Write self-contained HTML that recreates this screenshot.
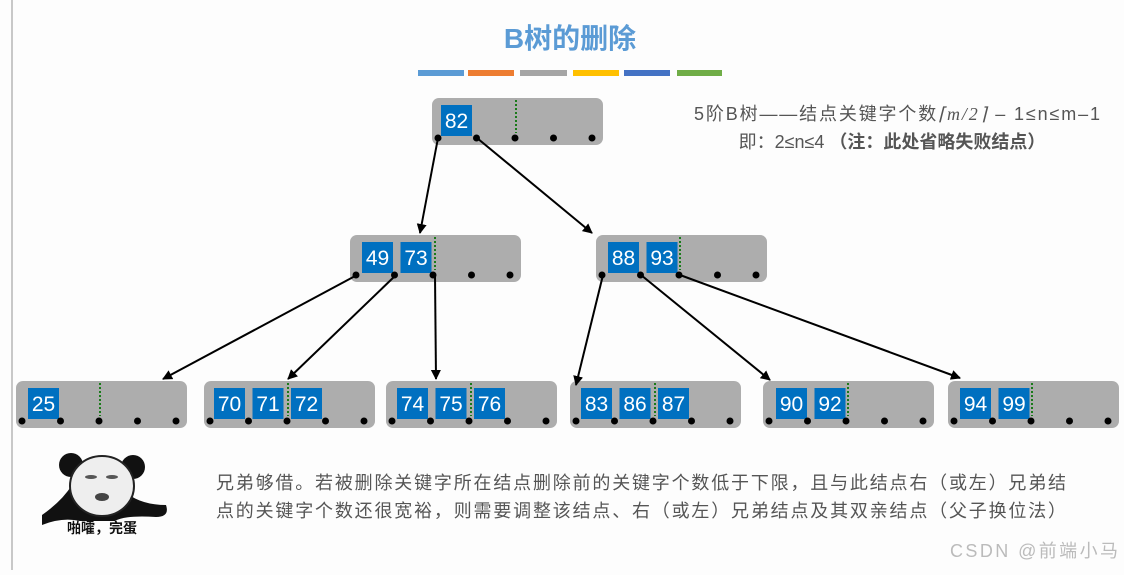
<!DOCTYPE html>
<html><head><meta charset="utf-8"><style>
body{margin:0;width:1124px;height:570px;background:#fdfdfd;overflow:hidden}
svg text{font-family:"Liberation Sans","Noto Sans CJK SC",sans-serif}
</style></head><body>
<svg width="1124" height="570" xmlns="http://www.w3.org/2000/svg">
<defs><marker id="a" markerWidth="10" markerHeight="10" refX="9" refY="5" orient="auto" markerUnits="userSpaceOnUse"><path d="M0,0 L10,5 L0,10 Z" fill="#000"/></marker></defs>
<line x1="12" y1="0" x2="12" y2="570" stroke="#c8c8c8" stroke-width="2"/>
<text x="570" y="48" text-anchor="middle" font-size="28" font-weight="bold" fill="#5b9bd5">B树的删除</text>
<rect x="418" y="70" width="46" height="6" fill="#5b9bd5"/>
<rect x="468" y="70" width="46" height="6" fill="#ed7d31"/>
<rect x="520" y="70" width="47" height="6" fill="#a5a5a5"/>
<rect x="573" y="70" width="46" height="6" fill="#ffc000"/>
<rect x="624" y="70" width="46" height="6" fill="#4472c4"/>
<rect x="677" y="70" width="45" height="6" fill="#70ad47"/>
<text x="897" y="120" text-anchor="middle" font-size="18" fill="#555" textLength="406">5阶B树——结点关键字个数<tspan font-family="Liberation Serif" font-style="italic">⌈m/2⌉</tspan> – 1≤n≤m–1</text>
<text x="892" y="148" text-anchor="middle" font-size="18" fill="#555">即：2≤n≤4 <tspan font-weight="bold">（注：此处省略失败结点）</tspan></text>
<g id="nodes"></g>
<g stroke="#000" stroke-width="2" marker-end="url(#a)">
<line x1="438" y1="138" x2="420" y2="233"/>
<line x1="477" y1="138" x2="592" y2="233"/>
<line x1="357" y1="275" x2="163" y2="379"/>
<line x1="396" y1="275" x2="288" y2="379"/>
<line x1="435" y1="275" x2="436" y2="379"/>
<line x1="603" y1="275" x2="576" y2="385"/>
<line x1="641" y1="275" x2="770" y2="380"/>
<line x1="680" y1="275" x2="960" y2="378"/>
</g>
<g transform="translate(40,453)">
<path d="M2,62 Q22,48 32,32 L78,32 Q95,52 126,52 Q130,64 116,64 Q85,62 75,68 L40,68 Q22,64 2,72 Z" fill="#111"/>
<circle cx="31" cy="12" r="12" fill="#111"/><circle cx="93" cy="14" r="12" fill="#111"/>
<ellipse cx="62" cy="33" rx="32" ry="30" fill="#eee" stroke="#222" stroke-width="2"/>
<ellipse cx="51" cy="24" rx="6" ry="2" fill="#555"/><ellipse cx="72" cy="24" rx="6" ry="2" fill="#555"/>
<ellipse cx="62" cy="44" rx="7" ry="4" fill="#444"/>
<text x="62" y="80" text-anchor="middle" font-size="14" font-weight="bold" fill="#111">啪嚯，完蛋</text>
</g>
<text x="216" y="489" font-size="18" fill="#555" textLength="850">兄弟够借。若被删除关键字所在结点删除前的关键字个数低于下限，且与此结点右（或左）兄弟结</text>
<text x="216" y="517" font-size="18" fill="#555" textLength="850">点的关键字个数还很宽裕，则需要调整该结点、右（或左）兄弟结点及其双亲结点（父子换位法）</text>
<text x="950" y="557" font-size="18" fill="#bbb" textLength="168">CSDN @前端小马</text>
</svg>
<script>
var N=[[432,98,441,[82],516],[350,235,362,[49,73],435],[596,235,608,[88,93],680],
[16,381,28,[25],100],[204,381,214,[70,71,72],288],[386,381,397,[74,75,76],471],
[570,381,581,[83,86,87],655],[763,381,776,[90,92],848],[948,381,960,[94,99],1032]];
var s='';N.forEach(function(n){var x=n[0],y=n[1];
s+='<rect x="'+x+'" y="'+y+'" width="171" height="47" rx="7" fill="#adadad"/>';
s+='<line x1="'+n[4]+'" y1="'+(y+2)+'" x2="'+n[4]+'" y2="'+(y+35)+'" stroke="#1a7a1a" stroke-width="2" stroke-dasharray="2,2"/>';
n[3].forEach(function(k,i){var kx=n[2]+i*38.5;s+='<rect x="'+kx+'" y="'+(y+7)+'" width="31" height="31" fill="#0070c0"/><text x="'+(kx+15.5)+'" y="'+(y+30)+'" text-anchor="middle" font-size="21" fill="#fff">'+k+'</text>';});
for(var i=0;i<5;i++){s+='<circle cx="'+(x+6+i*38.5)+'" cy="'+(y+40)+'" r="3.5" fill="#000"/>';}
});document.getElementById('nodes').innerHTML=s;
</script>
</body></html>
